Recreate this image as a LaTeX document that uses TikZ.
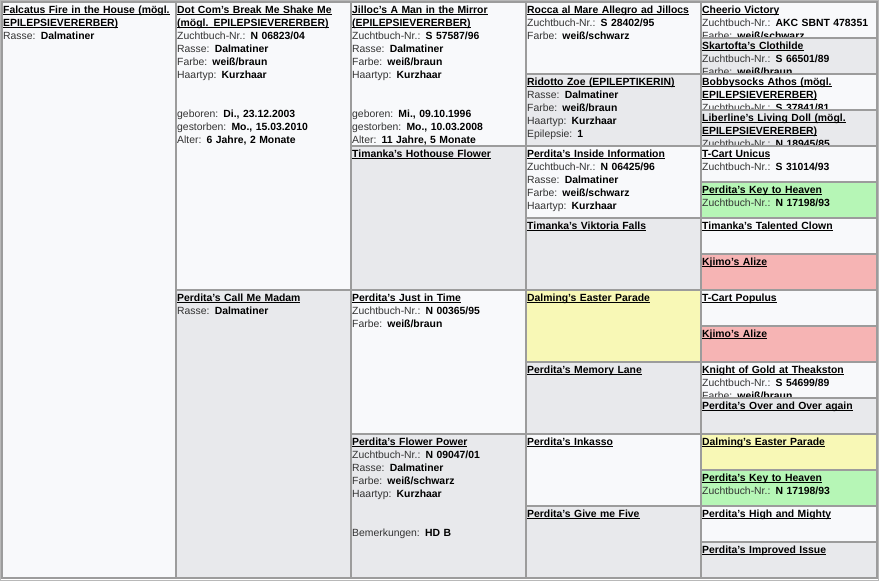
\documentclass[tikz,border=0pt]{standalone}
\usepackage{fontspec}
\setmainfont{Liberation Sans}
\usepackage{tikz}

\definecolor{gridline}{HTML}{9C9C9C}
\definecolor{frameline}{HTML}{B8B8B8}
\definecolor{cellwhite}{HTML}{F8F9FB}
\definecolor{cellgrey}{HTML}{E8E9EC}
\definecolor{cellyellow}{HTML}{F8F8B6}
\definecolor{cellgreen}{HTML}{B6F6B6}
\definecolor{cellpink}{HTML}{F6B4B4}

\newcommand{\ulbox}[1]{\leavevmode\setbox0=\hbox{#1}\rlap{\vrule width\wd0 height -1.2pt depth 2.2pt}\box0}
\newcommand{\dog}[1]{\ulbox{\textbf{#1}}}
\newcommand{\field}[2]{{\color{black!80}#1:} \textbf{#2}}

\tikzset{
  cell/.style={draw=gridline, line width=2pt},
  info/.style={anchor=base west, inner sep=0pt, text width=172pt, align=left,
    font=\fontsize{10.4}{13}\selectfont},
}

\begin{document}
\begin{tikzpicture}[x=1pt, y=-1pt]
    \useasboundingbox (0,0) rectangle (881,582);
    \draw[frameline, line width=1pt] (0.5,0.5) rectangle (878.5,580.5);

    \draw[cell, fill=cellwhite] (1.5,1.5) rectangle (175.5,577.5);

    \draw[cell, fill=cellwhite] (175.5,1.5) rectangle (350.5,289.5);
    \draw[cell, fill=cellgrey] (175.5,289.5) rectangle (350.5,577.5);

    \draw[cell, fill=cellwhite] (350.5,1.5) rectangle (525.5,145.5);
    \draw[cell, fill=cellgrey] (350.5,145.5) rectangle (525.5,289.5);
    \draw[cell, fill=cellwhite] (350.5,289.5) rectangle (525.5,433.5);
    \draw[cell, fill=cellgrey] (350.5,433.5) rectangle (525.5,577.5);

    \draw[cell, fill=cellwhite] (525.5,1.5) rectangle (700.5,73.5);
    \draw[cell, fill=cellgrey] (525.5,73.5) rectangle (700.5,145.5);
    \draw[cell, fill=cellwhite] (525.5,145.5) rectangle (700.5,217.5);
    \draw[cell, fill=cellgrey] (525.5,217.5) rectangle (700.5,289.5);
    \draw[cell, fill=cellyellow] (525.5,289.5) rectangle (700.5,361.5);
    \draw[cell, fill=cellgrey] (525.5,361.5) rectangle (700.5,433.5);
    \draw[cell, fill=cellwhite] (525.5,433.5) rectangle (700.5,505.5);
    \draw[cell, fill=cellgrey] (525.5,505.5) rectangle (700.5,577.5);

    \draw[cell, fill=cellwhite] (700.5,1.5) rectangle (876.5,37.5);
    \draw[cell, fill=cellgrey] (700.5,37.5) rectangle (876.5,73.5);
    \draw[cell, fill=cellwhite] (700.5,73.5) rectangle (876.5,109.5);
    \draw[cell, fill=cellgrey] (700.5,109.5) rectangle (876.5,145.5);
    \draw[cell, fill=cellwhite] (700.5,145.5) rectangle (876.5,181.5);
    \draw[cell, fill=cellgreen] (700.5,181.5) rectangle (876.5,217.5);
    \draw[cell, fill=cellwhite] (700.5,217.5) rectangle (876.5,253.5);
    \draw[cell, fill=cellpink] (700.5,253.5) rectangle (876.5,289.5);
    \draw[cell, fill=cellwhite] (700.5,289.5) rectangle (876.5,325.5);
    \draw[cell, fill=cellpink] (700.5,325.5) rectangle (876.5,361.5);
    \draw[cell, fill=cellwhite] (700.5,361.5) rectangle (876.5,397.5);
    \draw[cell, fill=cellgrey] (700.5,397.5) rectangle (876.5,433.5);
    \draw[cell, fill=cellyellow] (700.5,433.5) rectangle (876.5,469.5);
    \draw[cell, fill=cellgreen] (700.5,469.5) rectangle (876.5,505.5);
    \draw[cell, fill=cellwhite] (700.5,505.5) rectangle (876.5,541.5);
    \draw[cell, fill=cellgrey] (700.5,541.5) rectangle (876.5,577.5);

    \node[info] (falcatus) at (3,13) {\dog{Falcatus Fire in the House (mögl.}\\
      \dog{EPILEPSIEVERERBER)}\\ \field{Rasse}{Dalmatiner}};

    \node[info] (dotcom) at (177,13) {\dog{Dot Com's Break Me Shake Me}\\
      \dog{(mögl. EPILEPSIEVERERBER)}\\ \field{Zuchtbuch-Nr.}{N 06823/04}\\
      \field{Rasse}{Dalmatiner}\\ \field{Farbe}{weiß/braun}\\
      \field{Haartyp}{Kurzhaar}\\[26pt] \field{geboren}{Di., 23.12.2003}\\
      \field{gestorben}{Mo., 15.03.2010}\\ \field{Alter}{6 Jahre, 2 Monate}};
    \node[info] (callmemadam) at (177,301) {\dog{Perdita's Call Me Madam}\\
      \field{Rasse}{Dalmatiner}};

    \node[info] (jilloc) at (352,13) {\dog{Jilloc's A Man in the Mirror}\\
      \dog{(EPILEPSIEVERERBER)}\\ \field{Zuchtbuch-Nr.}{S 57587/96}\\
      \field{Rasse}{Dalmatiner}\\ \field{Farbe}{weiß/braun}\\
      \field{Haartyp}{Kurzhaar}\\[26pt] \field{geboren}{Mi., 09.10.1996}\\
      \field{gestorben}{Mo., 10.03.2008}\\ \field{Alter}{11 Jahre, 5 Monate}};
    \node[info] (hothouse) at (352,157) {\dog{Timanka's Hothouse Flower}};
    \node[info] (justintime) at (352,301) {\dog{Perdita's Just in Time}\\
      \field{Zuchtbuch-Nr.}{N 00365/95}\\ \field{Farbe}{weiß/braun}};
    \node[info] (flowerpower) at (352,445) {\dog{Perdita's Flower Power}\\
      \field{Zuchtbuch-Nr.}{N 09047/01}\\ \field{Rasse}{Dalmatiner}\\
      \field{Farbe}{weiß/schwarz}\\ \field{Haartyp}{Kurzhaar}\\[26pt]
      \field{Bemerkungen}{HD B}};

    \node[info] (rocca) at (527,13) {\dog{Rocca al Mare Allegro ad Jillocs}\\
      \field{Zuchtbuch-Nr.}{S 28402/95}\\ \field{Farbe}{weiß/schwarz}};
    \node[info] (ridotto) at (527,85) {\dog{Ridotto Zoe (EPILEPTIKERIN)}\\
      \field{Rasse}{Dalmatiner}\\ \field{Farbe}{weiß/braun}\\
      \field{Haartyp}{Kurzhaar}\\ \field{Epilepsie}{1}};
    \node[info] (inside) at (527,157) {\dog{Perdita's Inside Information}\\
      \field{Zuchtbuch-Nr.}{N 06425/96}\\ \field{Rasse}{Dalmatiner}\\
      \field{Farbe}{weiß/schwarz}\\ \field{Haartyp}{Kurzhaar}};
    \node[info] (viktoria) at (527,229) {\dog{Timanka's Viktoria Falls}};
    \node[info] (easter) at (527,301) {\dog{Dalming's Easter Parade}};
    \node[info] (memory) at (527,373) {\dog{Perdita's Memory Lane}};
    \node[info] (inkasso) at (527,445) {\dog{Perdita's Inkasso}};
    \node[info] (givefive) at (527,517) {\dog{Perdita's Give me Five}};

    \begin{scope}
      \clip (701.5,2.5) rectangle (875.5,36.5);
      \node[info] (cheerio) at (702,13) {\dog{Cheerio Victory}\\
        \field{Zuchtbuch-Nr.}{AKC SBNT 478351}\\ \field{Farbe}{weiß/schwarz}};
    \end{scope}
    \begin{scope}
      \clip (701.5,38.5) rectangle (875.5,72.5);
      \node[info] (clothilde) at (702,49) {\dog{Skartofta's Clothilde}\\
        \field{Zuchtbuch-Nr.}{S 66501/89}\\ \field{Farbe}{weiß/braun}};
    \end{scope}
    \begin{scope}
      \clip (701.5,74.5) rectangle (875.5,108.5);
      \node[info] (athos) at (702,85) {\dog{Bobbysocks Athos (mögl.}\\
        \dog{EPILEPSIEVERERBER)}\\ \field{Zuchtbuch-Nr.}{S 37841/81}};
    \end{scope}
    \begin{scope}
      \clip (701.5,110.5) rectangle (875.5,144.5);
      \node[info] (livingdoll) at (702,121) {\dog{Liberline's Living Doll (mögl.}\\
        \dog{EPILEPSIEVERERBER)}\\ \field{Zuchtbuch-Nr.}{N 18945/85}};
    \end{scope}
    \node[info] (unicus) at (702,157) {\dog{T-Cart Unicus}\\
      \field{Zuchtbuch-Nr.}{S 31014/93}};
    \node[info] (keyheaven) at (702,193) {\dog{Perdita's Key to Heaven}\\
      \field{Zuchtbuch-Nr.}{N 17198/93}};
    \node[info] (clown) at (702,229) {\dog{Timanka's Talented Clown}};
    \node[info] (alize) at (702,265) {\dog{Kjimo's Alize}};
    \node[info] (populus) at (702,301) {\dog{T-Cart Populus}};
    \node[info] (alize2) at (702,337) {\dog{Kjimo's Alize}};
    \begin{scope}
      \clip (701.5,362.5) rectangle (875.5,396.5);
      \node[info] (knight) at (702,373) {\dog{Knight of Gold at Theakston}\\
        \field{Zuchtbuch-Nr.}{S 54699/89}\\ \field{Farbe}{weiß/braun}};
    \end{scope}
    \node[info] (overagain) at (702,409) {\dog{Perdita's Over and Over again}};
    \node[info] (easter2) at (702,445) {\dog{Dalming's Easter Parade}};
    \node[info] (keyheaven2) at (702,481) {\dog{Perdita's Key to Heaven}\\
      \field{Zuchtbuch-Nr.}{N 17198/93}};
    \node[info] (mighty) at (702,517) {\dog{Perdita's High and Mighty}};
    \node[info] (improved) at (702,553) {\dog{Perdita's Improved Issue}};
\end{tikzpicture}
\end{document}
